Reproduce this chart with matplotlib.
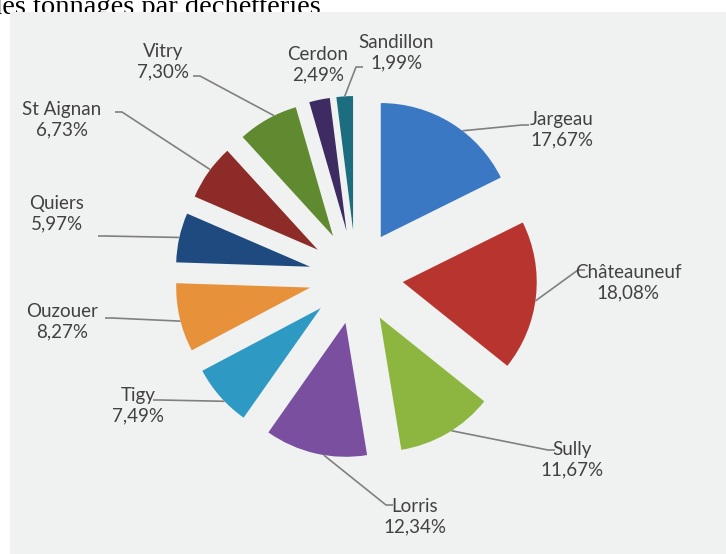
import matplotlib.pyplot as plt
from matplotlib.patches import Rectangle
import numpy as np

# tonnage share per déchetterie, clockwise from the top
sites = ["Jargeau", "Châteauneuf", "Sully", "Lorris", "Tigy", "Ouzouer",
         "Quiers", "St Aignan", "Vitry", "Cerdon", "Sandillon"]
shares = [17.67, 18.08, 11.67, 12.34, 7.49, 8.27, 5.97, 6.73, 7.30, 2.49, 1.99]
colors = ["#3b78c3", "#b8352f", "#8cb63f", "#7a4f9f", "#2e9ac4", "#e8913b",
          "#1f4a7f", "#8c2b27", "#5f8a2f", "#3d2b62", "#1b6d7f"]

# label block centres (pixels from top-left) and where each leader line ends
label_pos = [(562, 130), (628, 283), (572, 460), (415, 517), (138, 406),
             (62, 322), (57, 214), (62, 120), (163, 62), (318, 65), (396, 53)]
line_end = [(522, 125), (578, 270), (548, 450), (386, 505), (160, 400),
            (112, 318), (105, 236), (122, 112), (200, 76), None, (356, 67)]
anchor_frac = [0.41, 0.47, 0.55, 0.58, 0.6, 0.55, 0.5, 0.45, 0.38, None, 0.5]

W, H = 726, 554
fig = plt.figure(figsize=(W / 100, H / 100), dpi=100)
ax = fig.add_axes([0, 0, 1, 1])


def fy(y):
    # page coordinates run downwards
    return H - y


# heading of the page, mostly cropped off
ax.text(321, fy(14), "des tonnages par déchetteries", ha="right", va="baseline",
        family="Liberation Serif", fontsize=20.5, color="black", zorder=1)

# scanned sheet
ax.add_patch(Rectangle((10, 0), W - 10, fy(12), facecolor="#f0f2f1",
                       edgecolor="none", zorder=2))

wedges, _ = ax.pie(shares, colors=colors, startangle=90, counterclock=False,
                   center=(356, fy(277)), radius=134, explode=[47] * len(shares),
                   frame=True, wedgeprops=dict(linewidth=0, zorder=3))
ax.set_xlim(0, W)
ax.set_ylim(0, H)
ax.set_aspect("equal")
ax.axis("off")

for w, name, val, pos, end, f in zip(wedges, sites, shares, label_pos,
                                      line_end, anchor_frac):
    txt = f"{name}\n{val:.2f}%".replace(".", ",")
    ax.text(pos[0], fy(pos[1]), txt, ha="center", va="center",
            family="Lato", fontsize=13.5, color="#414141", linespacing=1.25,
            zorder=5)
    if end is None:
        continue
    th = np.radians(w.theta1 + f * (w.theta2 - w.theta1))
    cx, cy = w.center
    ax0 = cx + w.r * np.cos(th)
    ay0 = cy + w.r * np.sin(th)
    ex, ey = end[0], fy(end[1])
    stub = 7 if pos[0] > ex else -7
    ax.plot([ax0, ex, ex + stub], [ay0, ey, ey], color="#808080", lw=1.2,
            zorder=4, solid_capstyle="butt")

fig.savefig("out.png", dpi=100, facecolor="white")
